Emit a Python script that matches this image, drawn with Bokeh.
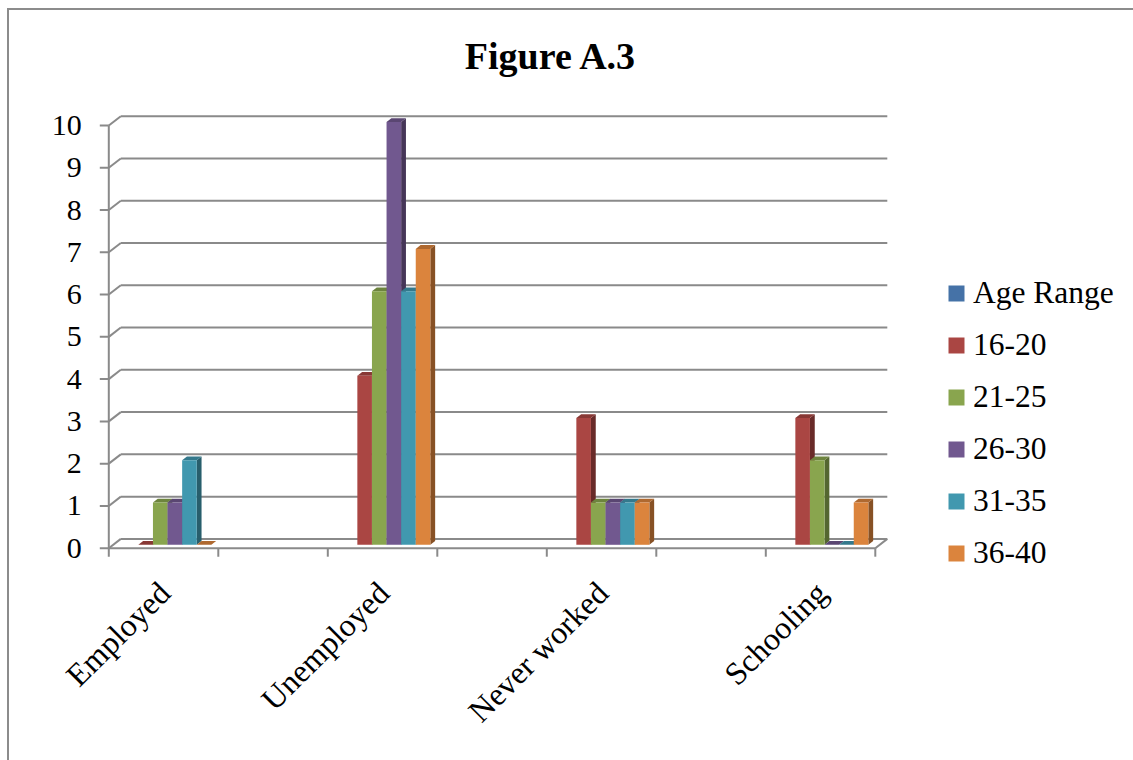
import math
import numpy as np
from bokeh.plotting import figure
from bokeh.models import (Range1d, Legend, LegendItem, Label, InlineStyleSheet)
from bokeh.core.properties import value
from bokeh.embed import file_html
from bokeh.resources import INLINE

# ---- data -------------------------------------------------------------
categories = ["Employed", "Unemployed", "Never worked", "Schooling"]
series_names = ["Age Range", "16-20", "21-25", "26-30", "31-35", "36-40"]
age_range = [np.nan, np.nan, np.nan, np.nan]   # header column, no values
age_16_20 = [0, 4, 3, 3]
age_21_25 = [1, 6, 1, 2]
age_26_30 = [1, 10, 1, 0]
age_31_35 = [2, 6, 1, 0]
age_36_40 = [0, 7, 1, 1]
series_values = [age_range, age_16_20, age_21_25, age_26_30, age_31_35, age_36_40]
y_ticks = list(range(0, 11))
y_tick_labels = [str(t) for t in y_ticks]

colors = ["#4572A7", "#AA4643", "#89A54E", "#71588F", "#4198AF", "#DB843D"]

# ---- geometry (data units) -------------------------------------------
PX_X = 109.5           # pixels per category slot
PX_Y = 42.27           # pixels per unit of value
X0_PX, Y0_PX = 108.3, 547.7    # where the floor meets the value axis
n_slots = 7            # categories sit in every other slot
cat_slot = [0, 2, 4, 6]
wall_dx, wall_dy = 12 / PX_X, 9.3 / PX_Y       # depth of the back wall
bar_fx, bar_fy = 4 / PX_X, 3.4 / PX_Y          # bar front face inset
bar_dx, bar_dy = 4.8 / PX_X, 3.8 / PX_Y        # bar depth
bar_w = 0.8 / len(series_names)
group_gap = 0.1
x_tick_len = 8.5 / PX_Y
y_tick_len = 9 / PX_X
y_label_gap = 27 / PX_X

def shade(hexcol, f):
    h = hexcol.lstrip("#")
    r, g, b = (int(h[i:i + 2], 16) for i in (0, 2, 4))
    return "#%02x%02x%02x" % (int(r * f), int(g * f), int(b * f))

grid_col = "#8a8a8a"
font = "Liberation Serif"

# chart-area border (left and top edges show inside the page)
frame_css = InlineStyleSheet(css="""
:host { position: relative; }
:host::after {
  content: ""; position: absolute; left: 7px; top: 8px; right: 0; bottom: 0;
  border-left: 2px solid #8c8c8c; border-top: 2px solid #8c8c8c;
  pointer-events: none; box-sizing: border-box;
}
""")

p = figure(width=1133, height=760, output_backend="svg", toolbar_location=None,
           x_axis_location=None, y_axis_location=None,
           x_range=Range1d(-X0_PX / PX_X, (1133 - X0_PX) / PX_X),
           y_range=Range1d(-(760 - Y0_PX) / PX_Y, Y0_PX / PX_Y),
           min_border_left=0, min_border_right=0, min_border_top=0,
           min_border_bottom=0, stylesheets=[frame_css])
p.outline_line_color = None
p.grid.visible = False

# ---- walls: gridlines on the back wall, floor ---------------------------
gy = np.array(y_ticks, dtype=float)
p.segment(x0=np.zeros_like(gy), y0=gy, x1=np.full_like(gy, wall_dx), y1=gy + wall_dy,
          line_color=grid_col, line_width=2)
p.segment(x0=np.full_like(gy, wall_dx), y0=gy + wall_dy,
          x1=np.full_like(gy, n_slots + wall_dx), y1=gy + wall_dy,
          line_color=grid_col, line_width=2)
# floor front edge, right edge, and the vertical axis line
p.segment(x0=[0, n_slots, 0], y0=[0, 0, 0], x1=[n_slots, n_slots + wall_dx, 0],
          y1=[0, wall_dy, y_ticks[-1]], line_color=grid_col, line_width=2)
# category tick marks under the floor
slot_edges = np.arange(n_slots + 1, dtype=float)
p.segment(x0=slot_edges, y0=np.zeros_like(slot_edges), x1=slot_edges,
          y1=np.full_like(slot_edges, -x_tick_len), line_color=grid_col, line_width=2)
# value tick marks and labels
p.segment(x0=np.full_like(gy, -y_tick_len), y0=gy, x1=np.zeros_like(gy), y1=gy,
          line_color=grid_col, line_width=2)
p.text(x=np.full_like(gy, -y_label_gap), y=gy, text=y_tick_labels,
       text_align="right", text_baseline="middle", text_color="black",
       text_font=value(font), text_font_size=value("30px"))

# ---- 3-D columns ------------------------------------------------------
legend_items = []
for si, (name, vals) in enumerate(zip(series_names, series_values)):
    v = np.array(vals, dtype=float)
    slots = np.array(cat_slot, dtype=float)
    left = slots + group_gap + si * bar_w + bar_fx
    right = left + bar_w
    bottom = np.full_like(v, bar_fy)
    top = v + bar_fy
    side_xs = [[r, r + bar_dx, r + bar_dx, r] for r in right]
    side_ys = [[b, b + bar_dy, t + bar_dy, t] for b, t in zip(bottom, top)]
    top_xs = [[l, r, r + bar_dx, l + bar_dx] for l, r in zip(left, right)]
    top_ys = [[t, t, t + bar_dy, t + bar_dy] for t in top]
    p.patches(side_xs, side_ys, fill_color=shade(colors[si], 0.62), line_color=None)
    p.patches(top_xs, top_ys, fill_color=shade(colors[si], 0.8), line_color=None)
    front = p.quad(left=left, right=right, bottom=bottom, top=top,
                   fill_color=colors[si], line_color=None)
    legend_items.append(LegendItem(label=name, renderers=[front]))

# ---- category labels, slanted under each group ------------------------
label_x = [s + 0.5 + 1 / PX_X for s in cat_slot]
label_y = [-(587 - Y0_PX) / PX_Y] * len(categories)
p.text(x=label_x, y=label_y, text=categories, angle=math.pi / 4,
       text_align="right", text_baseline="middle", text_color="black",
       text_font=value(font), text_font_size=value("32px"))

# ---- title ------------------------------------------------------------
p.add_layout(Label(x=(550.5 - X0_PX) / PX_X, y=(Y0_PX - 55.5) / PX_Y, text="Figure A.3",
                   text_font=font, text_font_style="bold", text_font_size="38px",
                   text_align="center", text_baseline="alphabetic", text_color="black"))

# ---- legend -----------------------------------------------------------
legend = Legend(items=legend_items, location=(946, 760 - 578.5),
                orientation="vertical",
                glyph_width=20, glyph_height=20, label_standoff=7,
                label_height=52, spacing=0, padding=0, margin=0,
                label_text_font=font, label_text_font_size="31.5px",
                label_text_color="black", border_line_color=None,
                background_fill_alpha=0)
p.add_layout(legend)

open("out.html", "w").write(file_html(p, INLINE))
